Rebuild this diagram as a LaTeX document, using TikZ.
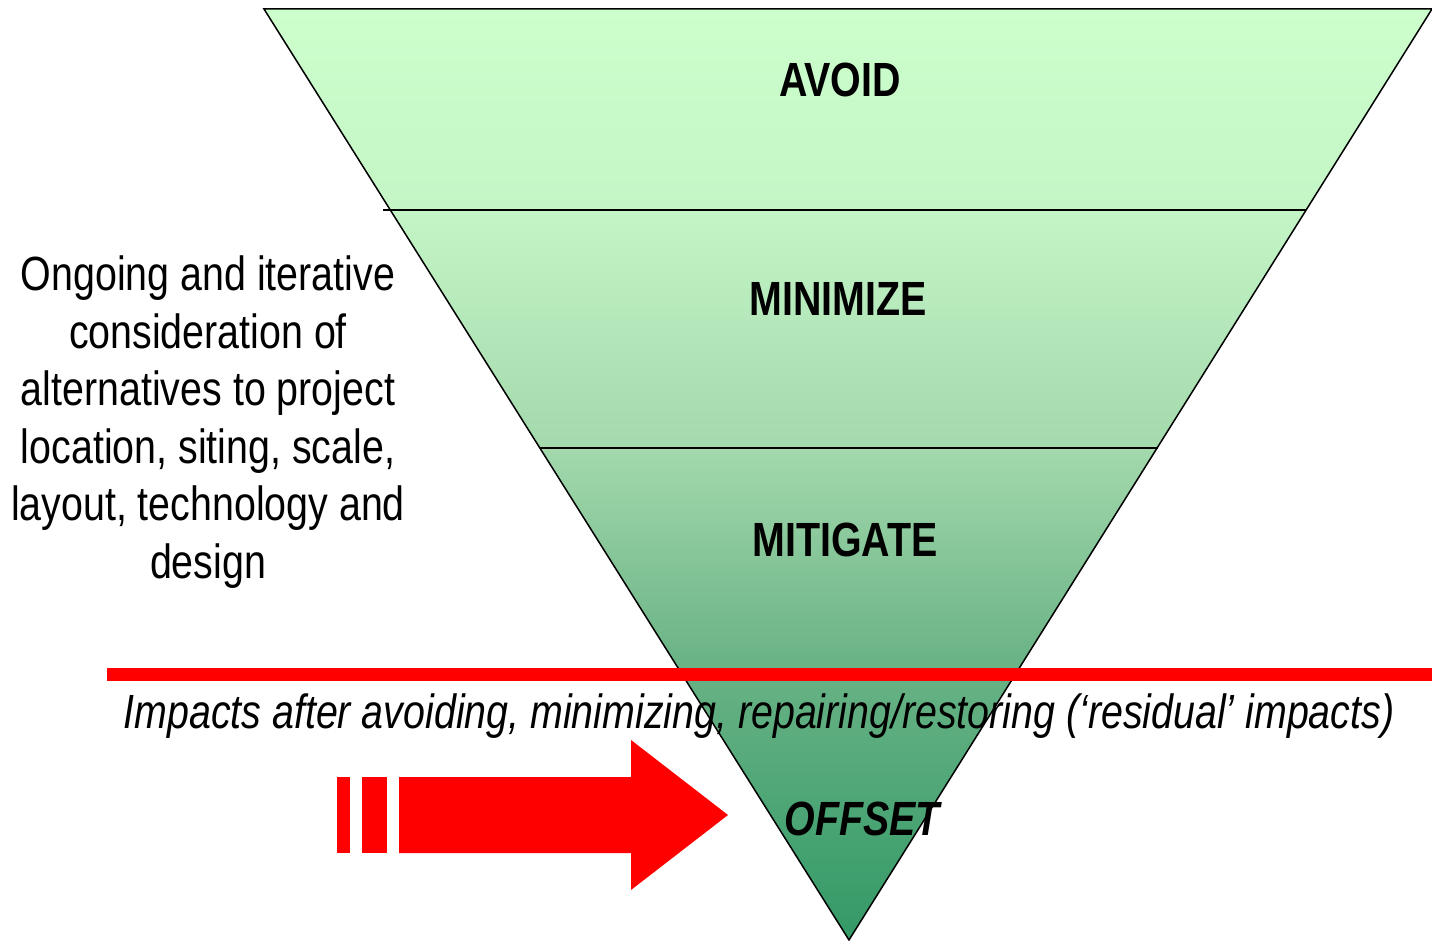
\documentclass[tikz,border=0pt]{standalone}
\usepackage{fontspec}
\setmainfont{Liberation Sans}[FakeStretch=0.82]
\definecolor{avoidgreen}{RGB}{204,255,204}
\definecolor{minimizegreen}{RGB}{196,245,198}
\definecolor{mitigategreen}{RGB}{163,217,172}
\definecolor{residualgreen}{RGB}{106,179,134}
\definecolor{offsetgreenA}{RGB}{74,164,116}
\definecolor{offsetgreen}{RGB}{51,153,102}
\definecolor{alarmred}{RGB}{255,0,0}
\pgfdeclareverticalshading{hierarchy}{100bp}{color(0bp)=(offsetgreen); color(25bp)=(offsetgreen); color(31.4bp)=(offsetgreenA); color(40bp)=(residualgreen); color(51.4bp)=(mitigategreen); color(64.2bp)=(minimizegreen); color(75bp)=(avoidgreen); color(100bp)=(avoidgreen)}

\begin{document}
\begin{tikzpicture}
    [x=0.5pt,y=-0.5pt,line width=0.75pt,
     level/.style={font=\fontsize{24}{28.8}\selectfont\bfseries,anchor=base},
     note/.style={font=\fontsize{24}{28.8}\selectfont}]
    \useasboundingbox (0,0) rectangle (1432,941);
    \coordinate (TL) at (264,9);
    \coordinate (TR) at (1432,9);
    \coordinate (B) at (849,940);
    \shade[shading=hierarchy] (TL)--(TR)--(B)--cycle;
    \draw (TL)--(TR)--(B)--cycle;
    \draw (383,210)--(1306,210);
    \draw (540,448)--(1158,448);
    \fill[alarmred] (107,668) rectangle (1432,681);
    \fill[alarmred] (337,777) rectangle (350,853);
    \fill[alarmred] (362,777) rectangle (387,853);
    \fill[alarmred] (399,777)--(631,777)--(631,740)--(728,815)--(631,890)--(631,853)--(399,853)--cycle;
    \node[level] (avoid) at (840,97) {AVOID};
    \node[level] (minimize) at (838,316) {MINIMIZE};
    \node[level] (mitigate) at (845,557) {MITIGATE};
    \node[level,font=\fontsize{24}{28.8}\selectfont\bfseries\itshape] (offset) at (862,835) {OFFSET};
    \node[note,anchor=base,font=\fontsize{24}{28.8}\selectfont\itshape] (residual) at (759,728)
      {Impacts after avoiding, minimizing, repairing/restoring (`residual' impacts)};
    \node[note,align=center] (alternatives) at (208,422)
      {Ongoing and iterative\\consideration of\\alternatives to project\\location, siting, scale,\\layout, technology and\\design};
\end{tikzpicture}
\end{document}
